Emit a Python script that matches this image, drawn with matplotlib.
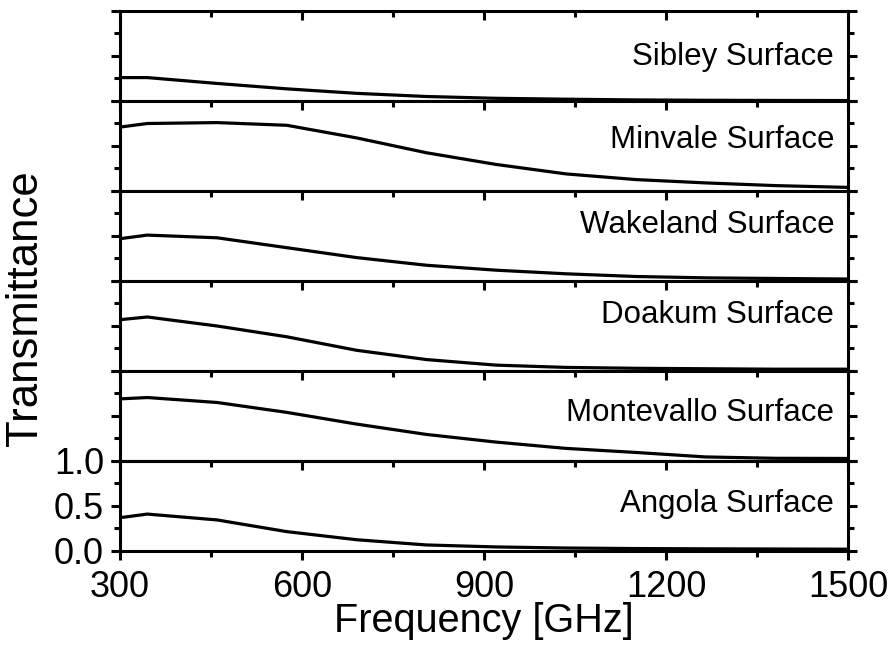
import numpy as np
import matplotlib
matplotlib.use('Agg')
from matplotlib import pyplot as plt
from matplotlib.ticker import MultipleLocator

plt.rcParams['font.family'] = ['Liberation Sans', 'DejaVu Sans']

freq = [300, 345, 460, 575, 690, 805, 920, 1035, 1150, 1265, 1380, 1500]

sibley = [0.26, 0.26, 0.195, 0.135, 0.085, 0.05, 0.03, 0.02, 0.012, 0.008, 0.006, 0.005]
minvale = [0.71, 0.75, 0.76, 0.73, 0.59, 0.425, 0.295, 0.19, 0.127, 0.09, 0.06, 0.04]
wakeland = [0.47, 0.51, 0.48, 0.37, 0.26, 0.175, 0.12, 0.08, 0.05, 0.035, 0.028, 0.022]
doakum = [0.57, 0.6, 0.5, 0.38, 0.23, 0.127, 0.065, 0.04, 0.03, 0.025, 0.02, 0.02]
montevallo = [0.69, 0.705, 0.65, 0.54, 0.41, 0.295, 0.21, 0.14, 0.095, 0.045, 0.03, 0.028]
angola = [0.37, 0.41, 0.345, 0.215, 0.125, 0.067, 0.045, 0.033, 0.027, 0.024, 0.022, 0.02]

names = ["Sibley Surface", "Minvale Surface", "Wakeland Surface",
         "Doakum Surface", "Montevallo Surface", "Angola Surface"]
series = [sibley, minvale, wakeland, doakum, montevallo, angola]
label_y = [0.40, 0.478, 0.533, 0.533, 0.44, 0.435]

fig, axes = plt.subplots(6, 1, sharex=True, figsize=(8.93, 6.47), dpi=100)
fig.subplots_adjust(left=0.1344, right=0.9496, top=0.983, bottom=0.1484, hspace=0)

for i in range(6):
    ax = axes[i]
    ax.plot(freq, series[i], color='black', lw=2.3, solid_joinstyle='round')
    ax.set_xlim(300, 1500)
    ax.set_ylim(0, 1)
    ax.text(0.981, label_y[i], names[i], transform=ax.transAxes,
            ha='right', va='baseline', fontsize=22.5)
    for s in ax.spines.values():
        s.set_linewidth(2.2)
    ax.xaxis.set_major_locator(MultipleLocator(300))
    ax.xaxis.set_minor_locator(MultipleLocator(150))
    ax.yaxis.set_major_locator(MultipleLocator(0.5))
    ax.yaxis.set_minor_locator(MultipleLocator(0.25))
    ax.tick_params(axis='x', which='both', top=(i < 5), bottom=(i == 5),
                   direction='in', width=2.2)
    ax.tick_params(axis='y', which='both', left=True, right=True,
                   direction='out', width=2.2)
    ax.tick_params(which='major', length=6.5)
    ax.tick_params(which='minor', length=4)
    if i < 5:
        ax.tick_params(axis='y', labelleft=False)
    ax.tick_params(axis='x', labelbottom=(i == 5))

bot = axes[5]
bot.tick_params(axis='x', which='both', direction='out')
# top ticks of last panel point down into it, like the others
sec = bot.secondary_xaxis('top')
sec.xaxis.set_major_locator(MultipleLocator(300))
sec.xaxis.set_minor_locator(MultipleLocator(150))
sec.tick_params(axis='x', which='both', direction='in', width=2.2, labeltop=False)
sec.tick_params(which='major', length=6.5)
sec.tick_params(which='minor', length=4)
sec.spines['top'].set_linewidth(2.2)

bot.set_yticks([0, 0.5, 1.0])
bot.set_yticklabels(['0.0', '0.5', '1.0'])
bot.tick_params(axis='both', which='major', labelsize=26)
bot.tick_params(axis='x', pad=7)
bot.tick_params(axis='y', pad=5)
bot.set_xlabel('Frequency [GHz]', fontsize=28.5, labelpad=-2)

fig.text(0.028, 0.524, 'Transmittance', rotation=90, ha='center', va='center', fontsize=31.5)

fig.savefig('out.png', dpi=100)
